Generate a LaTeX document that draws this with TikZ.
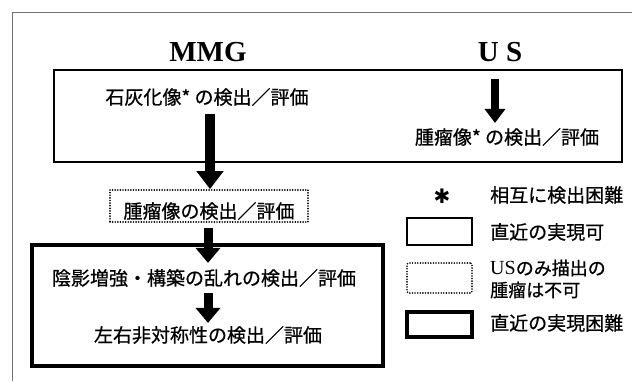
\documentclass[tikz,border=0pt]{standalone}
\usepackage{fontspec}
\usetikzlibrary{arrows.meta,calc}
\newfontfamily\jp[FakeBold=0.7]{Noto Sans CJK JP}
\newfontfamily\tms{Liberation Serif}
\newfontfamily\djv{DejaVu Sans}
\begin{document}
\begin{tikzpicture}[x=1pt,y=-1pt,
  frame/.style={draw=black!55,line width=0.8pt},
  thinbox/.style={draw,line width=1.4pt,inner sep=0pt,rectangle},
  dotbox/.style={draw,line width=1.8pt,line cap=round,dash pattern=on 0.01pt off 2.6pt,inner sep=0pt,rectangle},
  thickbox/.style={draw,line width=3.8pt,inner sep=0pt,rectangle},
  jtext/.style={font=\jp\fontsize{19}{21}\selectfont,inner sep=0pt},
  head/.style={font=\tms\bfseries\fontsize{29}{31}\selectfont,inner sep=0pt},
  bigarrow/.style={line width=10pt,-{Triangle[width=26pt,length=18pt]}},
  midarrow/.style={line width=9pt,-{Triangle[width=24pt,length=15pt]}},
  smallarrow/.style={line width=8pt,-{Triangle[width=20pt,length=14pt]}}]
\useasboundingbox (0,0) rectangle (632,381);
% outer frame (partly visible)
\draw[frame] (12,381) -- (12,12) -- (632,12);
% headings
\node[head] (mmg) at (208,52) {MMG};
\node[head] (us) at (500,52) {U S};
% boxes
\node[thinbox,minimum width=568pt,minimum height=92pt] (topbox) at (338,116) {};
\node[dotbox,minimum width=198pt,minimum height=32pt] (dbox) at (209,206) {};
\node[thickbox,minimum width=351pt,minimum height=121pt] (kbox) at (207.5,305.5) {};
% texts
\node[jtext] (t1) at (207,97) {石灰化像* の検出／評価};
\node[jtext] (t2) at (507,137) {腫瘤像* の検出／評価};
\node[jtext] (t3) at (209,211) {腫瘤像の検出／評価};
\node[jtext] (t4) at (204,278) {陰影増強・構築の乱れの検出／評価};
\node[jtext] (t5) at (208,335) {左右非対称性の検出／評価};
% arrows
\coordinate (ma) at (210,0);
\coordinate (ua) at (495,0);
\coordinate (la) at (208,0);
\draw[bigarrow] ($(t1.south -| ma)+(0,8)$) -- (dbox.north -| ma);
\draw[smallarrow] ($(topbox.north -| ua)+(0,10)$) -- ($(t2.north -| ua)+(0,-5)$);
\draw[midarrow] ($(dbox.south -| la)+(0,5)$) -- ($(t4.north -| la)+(0,-6)$);
\draw[midarrow] ($(t4.south -| la)+(0,6)$) -- ($(t5.north -| la)+(0,-3)$);
% legend
\node[inner sep=0pt,font=\djv\bfseries\fontsize{20}{20}\selectfont] (star) at (442,196) {✱};
\node[jtext,anchor=west] (l1) at (490,195) {相互に検出困難};
\node[thinbox,minimum width=65pt,minimum height=27pt] (lb1) at (439.5,231.5) {};
\node[jtext,anchor=west] (l2) at (490,232) {直近の実現可};
\node[dotbox,rounded corners=2pt,minimum width=65pt,minimum height=30pt] (lb2) at (439.5,278) {};
\node[jtext,anchor=west,font=\jp\fontsize{18}{20}\selectfont] (l3) at (490,268) {{\tms\fontsize{20}{20}\selectfont US}のみ描出の};
\node[jtext,anchor=west,font=\jp\fontsize{18}{20}\selectfont] (l4) at (490,290) {腫瘤は不可};
\node[thickbox,minimum width=65pt,minimum height=25pt] (lb3) at (439.5,324.5) {};
\node[jtext,anchor=west] (l5) at (490,323) {直近の実現困難};
\end{tikzpicture}
\end{document}
